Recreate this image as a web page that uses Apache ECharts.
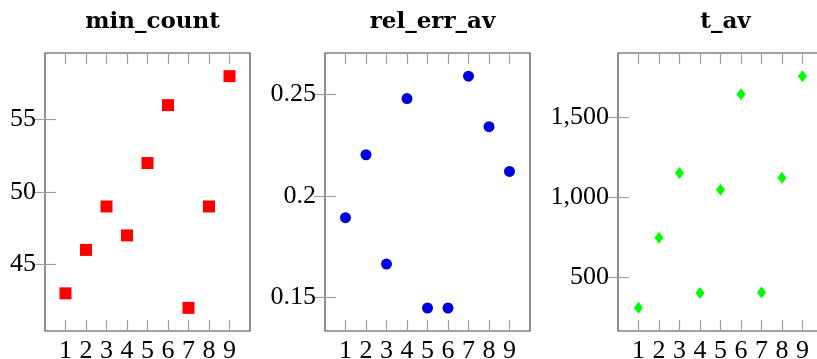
<!DOCTYPE html>
<html>
<head>
<meta charset="utf-8">
<script src="https://cdn.jsdelivr.net/npm/echarts@6/dist/echarts.min.js"></script>
<style>
  html, body { margin: 0; padding: 0; background: #fff; }
  #chart-container { width: 817px; height: 359px; }
</style>
</head>
<body>
<div id="chart-container"></div>
<script>
// run index on x, same for all three panels
const runs = [1, 2, 3, 4, 5, 6, 7, 8, 9];

const minCount = [43, 46, 49, 47, 52, 56, 42, 49, 58];
const relErrAv = [0.1893, 0.2202, 0.1665, 0.2478, 0.1449, 0.1449, 0.2588, 0.234, 0.212];
const tAv = [310, 747, 1152, 402, 1048, 1644, 406, 1123, 1757];

const panelTitles = ['min_count', 'rel_err_av', 't_av'];
const yTicks = [[45, 50, 55], [0.15, 0.2, 0.25], [500, 1000, 1500]];
const yTickLabels = [['45', '50', '55'], ['0.15', '0.2', '0.25'], ['500', '1,000', '1,500']];
const yRanges = [[40.4, 59.6], [0.1336, 0.2702], [165, 1902]];

const gridLefts = [45, 325, 618];
const boxW = 205, boxH = 278, boxTop = 53;

const tickFont = { fontFamily: 'Liberation Serif', fontSize: 26, color: '#000' };
const tickLine = { lineStyle: { color: '#a0a0a0', width: 1.2 } };

let myChart = echarts.init(document.getElementById('chart-container'));

const grids = [], xAxes = [], yAxes = [], titles = [], series = [];

gridLefts.forEach((left, i) => {
	grids.push({
		left: left, top: boxTop, width: boxW, height: boxH,
		outerBoundsMode: 'none', containLabel: false,
		show: true, borderColor: '#444', borderWidth: 1.2, backgroundColor: 'transparent'
	});
	titles.push({
		text: panelTitles[i],
		left: left + boxW / 2,
		top: 6,
		textAlign: 'center',
		textStyle: { fontFamily: 'DejaVu Serif', fontWeight: 'bold', fontSize: 23, color: '#000' }
	});
	// bottom and top x axes (pgfplots box has ticks on both sides)
	['bottom', 'top'].forEach((pos, k) => {
		xAxes.push({
			type: 'value', gridIndex: i, position: pos, min: 0, max: 10,
			axisLine: { show: false },
			splitLine: { show: false },
			axisTick: { show: true, inside: true, length: 11, customValues: runs, ...tickLine },
			axisLabel: k === 0
				? { show: true, customValues: runs, margin: 7, ...tickFont }
				: { show: false }
		});
	});
	['left', 'right'].forEach((pos, k) => {
		yAxes.push({
			type: 'value', gridIndex: i, position: pos,
			min: yRanges[i][0], max: yRanges[i][1],
			axisLine: { show: false },
			splitLine: { show: false },
			axisTick: { show: true, inside: true, length: 11, customValues: yTicks[i], ...tickLine },
			axisLabel: k === 0
				? {
					show: true, customValues: yTicks[i], margin: 9, ...tickFont,
					formatter: v => {
						const idx = yTicks[i].findIndex(t => Math.abs(t - v) < 1e-9);
						return idx >= 0 ? yTickLabels[i][idx] : '';
					}
				}
				: { show: false }
		});
	});
});

const pairs = (ys) => runs.map((x, j) => [x, ys[j]]);

series.push({
	type: 'scatter', xAxisIndex: 0, yAxisIndex: 0, data: pairs(minCount),
	symbol: 'rect', symbolSize: 12, itemStyle: { color: '#ff0000', opacity: 1 }
});
series.push({
	type: 'scatter', xAxisIndex: 2, yAxisIndex: 2, data: pairs(relErrAv),
	symbol: 'circle', symbolSize: 11, itemStyle: { color: '#0000dd', opacity: 1 }
});
series.push({
	type: 'scatter', xAxisIndex: 4, yAxisIndex: 4, data: pairs(tAv),
	symbol: 'diamond', symbolSize: [9, 12], itemStyle: { color: '#00ff00', opacity: 1 }
});

var option = {
	animation: false,
	title: titles,
	grid: grids,
	xAxis: xAxes,
	yAxis: yAxes,
	series: series
};

myChart.setOption(option);
</script>
</body>
</html>
